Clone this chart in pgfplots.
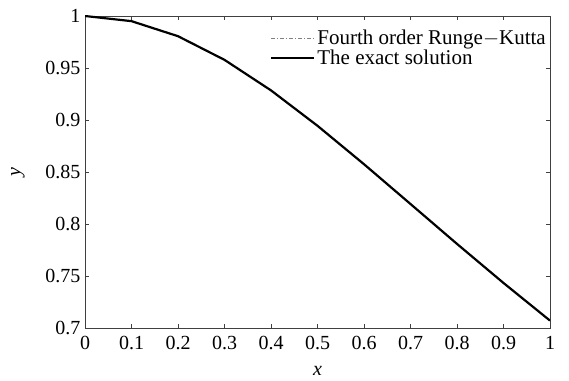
\documentclass[border=0pt]{standalone}
\usepackage{pgfplots}
\pgfplotsset{compat=1.18}
\usepackage{fontspec}
\setmainfont{Liberation Serif}

% y' = -x y^3 solutions on [0,1], step 0.1
\pgfplotstableread{
x    rk        exact
0.0  1.000000  1.000000
0.1  0.995037  0.995037
0.2  0.980581  0.980581
0.3  0.957826  0.957826
0.4  0.928477  0.928477
0.5  0.894427  0.894427
0.6  0.857493  0.857493
0.7  0.819232  0.819232
0.8  0.780869  0.780869
0.9  0.743294  0.743294
1.0  0.707107  0.707107
}\soltable

\begin{document}
\begin{tikzpicture}[font=\fontsize{20}{22}\selectfont]
\begin{axis}[
  name=main,
  scale only axis,
  width=465pt, height=312pt,
  xmin=0, xmax=1, ymin=0.7, ymax=1,
  xtick={0,0.1,0.2,0.3,0.4,0.5,0.6,0.7,0.8,0.9,1},
  ytick={0.7,0.75,0.8,0.85,0.9,0.95,1},
  /pgf/number format/assume math mode=true,
  tick align=inside,
  major tick length=4pt,
  axis line style={line width=0.8pt, black!75},
  every tick/.style={black!75, line width=0.6pt},
  xticklabel style={yshift=-5pt},
  yticklabel style={xshift=-1pt},
  xlabel={\textit{x}},
  ylabel={\textit{y}},
  xlabel style={yshift=-9pt},
  ylabel style={yshift=14pt},
  legend style={draw=none, fill=none, at={(1,1)}, anchor=north east,
    xshift=-1pt, yshift=-11pt, row sep=0pt, inner sep=1pt,
    font=\fontsize{21}{22}\selectfont},
  legend cell align=left,
  legend image code/.code={\draw[#1] (0pt,0pt) -- (43pt,0pt);},
]
\addplot[gray, line width=0.5pt, dash pattern=on 4pt off 2pt on 1pt off 2pt] table[x=x, y=rk] {\soltable};
\addlegendentry{Fourth order Runge$-$Kutta}
\addplot[black, line width=2.2pt] table[x=x, y=exact] {\soltable};
\addlegendentry{The exact solution}
\end{axis}
\pgfresetboundingbox
\path ([shift={(-85pt,-52pt)}]main.south west) rectangle ([shift={(19pt,16pt)}]main.north east);
\end{tikzpicture}
\end{document}
